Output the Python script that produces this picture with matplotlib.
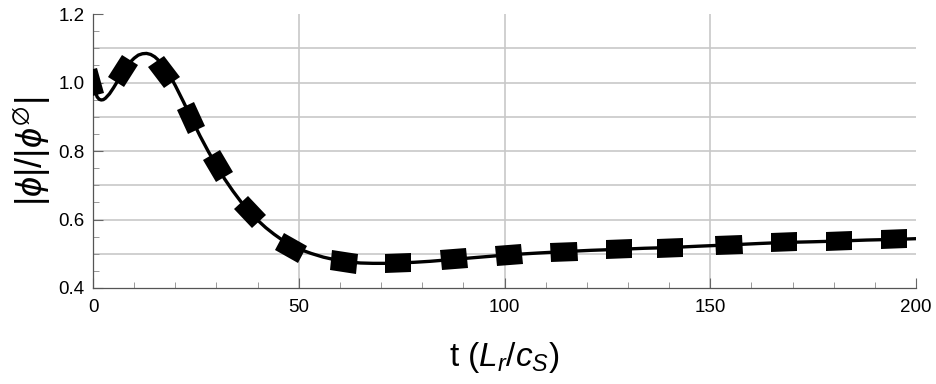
import numpy as np
import matplotlib
matplotlib.use("Agg")
import matplotlib.pyplot as plt
from matplotlib.markers import MarkerStyle
from matplotlib.transforms import Affine2D

# Curve (solid line)
t_line = [0, 0.5, 1, 1.5, 2, 2.5, 3, 4, 5, 6, 7, 8, 9, 10, 11, 12, 13, 14, 15, 16,
          17, 18, 19, 20, 22, 24, 26, 28, 30, 32, 34, 36, 38, 40, 42, 44, 46, 48,
          50, 53, 56, 59, 62, 65, 68, 71, 74, 78, 82, 88, 94, 101, 108, 114,
          121, 128, 134, 140, 147, 155, 162, 168, 175, 181, 188, 195, 200]
v_line = [1.000, 0.975, 0.958, 0.951, 0.949, 0.950, 0.954, 0.967, 0.985, 1.005,
          1.025, 1.043, 1.059, 1.071, 1.080, 1.084, 1.085, 1.082, 1.075, 1.064,
          1.050, 1.033, 1.013, 0.991, 0.943, 0.893, 0.844, 0.799, 0.757, 0.718,
          0.683, 0.651, 0.623, 0.598, 0.576, 0.557, 0.540, 0.526,
          0.514, 0.501, 0.490, 0.482, 0.476, 0.473, 0.472, 0.472, 0.473, 0.475,
          0.478, 0.484, 0.490, 0.497, 0.502, 0.506, 0.510, 0.513, 0.516, 0.518,
          0.522, 0.526, 0.530, 0.533, 0.535, 0.537, 0.540, 0.542, 0.544]

# Markers (tilted squares)
t_mark = [-0.5, 7.2, 17.3, 23.8, 30.3, 38.2, 48.2, 61.0, 74.1, 87.7, 101.1, 114.5,
          127.8, 140.2, 154.6, 167.9, 181.3, 194.7]
v_mark = [0.998, 1.034, 1.030, 0.895, 0.757, 0.623, 0.518, 0.476, 0.473, 0.485,
          0.497, 0.506, 0.513, 0.518, 0.526, 0.533, 0.537, 0.542]

x_ticks = [0, 50, 100, 150, 200]
y_ticks = [0.4, 0.6, 0.8, 1.0, 1.2]

plt.rcParams['font.family'] = ['Liberation Sans', 'DejaVu Sans']
plt.rcParams['mathtext.fontset'] = 'custom'
plt.rcParams['mathtext.rm'] = 'Liberation Sans'
plt.rcParams['mathtext.it'] = 'Liberation Sans:italic'
plt.rcParams['mathtext.fallback'] = 'stixsans'

fig = plt.figure(figsize=(9.36, 3.84), dpi=100)
ax = fig.add_axes([0.0994, 0.25, 0.8792, 0.7135])
ax.set_xlim(0, 200)
ax.set_ylim(0.4, 1.2)

# grid
for g in [50, 100, 150]:
    ax.axvline(g, color='#c8c8c8', lw=1.2, zorder=0)
for g in [0.5, 0.6, 0.7, 0.8, 0.9, 1.0, 1.1]:
    ax.axhline(g, color='#c8c8c8', lw=1.2, zorder=0)

ax.plot(t_line, v_line, color='black', lw=2.4, zorder=3, clip_on=True)

# marker orientation from curve direction in display coords
fig.canvas.draw()
tl = np.array(t_line, float)
vl = np.array(v_line, float)
for tm, vm in zip(t_mark, v_mark):
    d = 1.5
    a = max(tm - d, 0)
    b = max(tm + d, 1.0)
    p0 = ax.transData.transform((a, np.interp(a, tl, vl)))
    p1 = ax.transData.transform((b, np.interp(b, tl, vl)))
    ang = np.degrees(np.arctan2(p1[1] - p0[1], p1[0] - p0[0]))
    ms = MarkerStyle('s', transform=Affine2D().scale(1.35, 1.0).rotate_deg(ang))
    ax.plot([tm], [vm], marker=ms, ms=14, color='black', mec='black', mew=0,
            linestyle='none', zorder=4, clip_on=True)

ax.set_xticks(x_ticks)
ax.set_yticks(y_ticks)
ax.set_xticklabels([str(x) for x in x_ticks])
ax.set_yticklabels([f'{y:.1f}' for y in y_ticks])
ax.set_xticks(np.arange(0, 201, 10), minor=True)
ax.set_yticks(np.arange(0.4, 1.2001, 0.05), minor=True)
ax.tick_params(which='major', direction='in', length=7, width=0.8, color='#666666',
               labelsize=13.5, pad=6)
ax.tick_params(which='minor', direction='in', length=4, width=0.6, color='#888888')
ax.tick_params(axis='x', pad=8)

for s in ['top', 'right']:
    ax.spines[s].set_visible(False)
for s in ['left', 'bottom']:
    ax.spines[s].set_color('#555555')
    ax.spines[s].set_linewidth(0.9)

ax.set_xlabel(r't $(L_r/c_S)$', fontsize=24, labelpad=17)
ax.set_ylabel(r'$|\phi|/|\phi^{\varnothing}|$', fontsize=26, labelpad=4)

fig.savefig('out.png', dpi=100)
